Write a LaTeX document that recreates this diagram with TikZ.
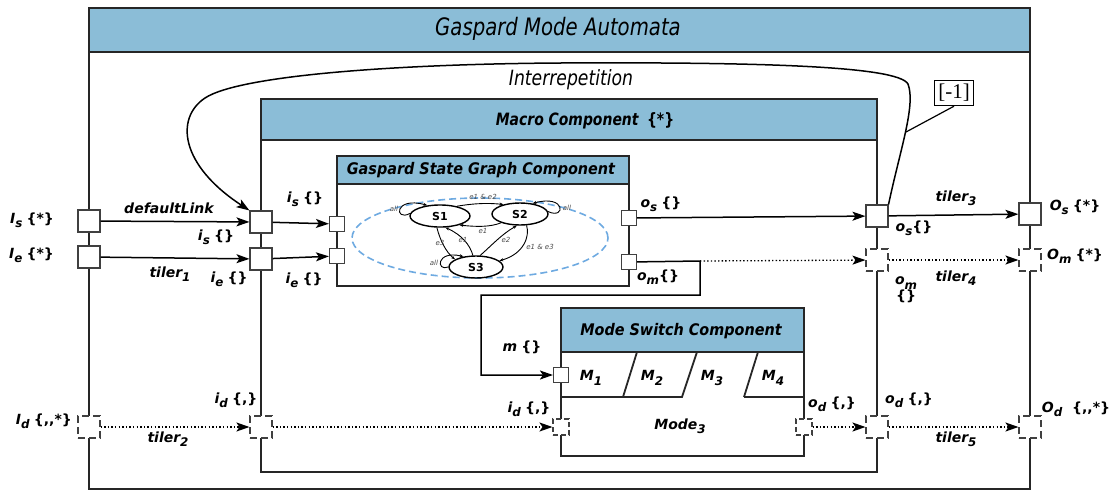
\documentclass[tikz,border=0pt]{standalone}
\usepackage{fontspec}
\setmainfont{DejaVu Sans}
\newfontfamily\condfont{DejaVu Sans}[FakeStretch=0.82]
\newfontfamily\headfont{DejaVu Sans}[FakeStretch=0.9]
\newfontfamily\notefont{Liberation Serif}
\usepackage{tikz}
\usetikzlibrary{arrows.meta,positioning,calc,shapes.geometric}
\usepackage{xcolor}

\definecolor{bandblue}{RGB}{139,189,215}
\definecolor{regionblue}{RGB}{110,170,225}

\newcommand{\fsz}[1]{\fontsize{#1}{#1}\selectfont}
\newcommand{\subl}[2]{#1\raisebox{-0.32em}{\scalebox{0.85}{#2}}}
\newcommand{\pname}[3]{\subl{#1}{#2}\hspace{0.3em}{\upshape #3}}

\tikzset{
  boxline/.style={draw=black!85,line width=2.2pt},
  band/.style={boxline,fill=bandblue},
  pbox/.style={draw=black!75,fill=white,line width=1.1pt,minimum size=22pt,inner sep=0pt},
  sbox/.style={pbox,minimum size=15pt},
  dbox/.style={pbox,dash pattern=on 7pt off 4pt},
  dsbox/.style={sbox,minimum size=16pt,dash pattern=on 5pt off 3pt},
  flow/.style={line width=1.5pt,-{Stealth[length=13pt,width=9pt,inset=3pt]}},
  dflow/.style={flow,line width=1.3pt,dash pattern=on 1.4pt off 2.2pt},
  lab/.style={font=\fsz{14}\bfseries\itshape,inner sep=1pt},
  bandtitle/.style={font=\headfont\fsz{16}\bfseries\itshape},
  stnode/.style={ellipse,draw,line width=1.4pt,minimum height=22pt,font=\fsz{11}\bfseries,inner sep=0pt},
  tedge/.style={line width=0.9pt,-{Stealth[length=4pt,width=3pt]}},
  tlab/.style={font=\fsz{7}\itshape,text=black!70,inner sep=1pt}
}

\begin{document}
\begin{tikzpicture}[x=1pt,y=-1pt]
\useasboundingbox (0,0) rectangle (1119,491);
% automaton frame
\draw[boxline] (89,8) rectangle (1030,489);
\draw[band] (89,8) rectangle (1030,52);
\node[font=\condfont\fsz{24}\itshape] (tAuto) at (558,29) {Gaspard Mode Automata};
% macro component
\draw[boxline] (261,99) rectangle (877,472);
\draw[band] (261,99) rectangle (877,140);
\node[font=\condfont\fsz{17}\bfseries\itshape] (tMacro) at (585,121) {Macro Component\enspace{\upshape\{*\}}};
% state graph component
\draw[boxline,line width=2.6pt] (337,156) rectangle (629,286);
\draw[band,line width=2.6pt] (337,156) rectangle (629,184);
\node[bandtitle] (tGraph) at (481,170) {Gaspard State Graph Component};
% mode switch component
\draw[boxline] (561,308) rectangle (804,456);
\draw[band] (561,308) rectangle (804,352);
\node[bandtitle] (tSwitch) at (681,331) {Mode Switch Component};
\draw[boxline,line width=1.8pt] (561,397) -- (623,397) -- (637,352) (623,397) -- (682,397) -- (697,352)
  (744,397) -- (758,352) (744,397) -- (804,397);
\foreach \k/\xx in {1/591,2/652,3/712,4/773}
  \node[lab] (lM\k) at (\xx,378) {\subl{M}{\k}};
\node[lab] (lMode) at (680,426) {\subl{Mode}{3}};

% states
\draw[regionblue,line width=1.6pt,dash pattern=on 7pt off 4pt] (480,238) ellipse [x radius=128pt,y radius=40pt];
\node[stnode,minimum width=60pt] (S1) at (440,216) {S1};
\node[stnode,minimum width=56pt] (S2) at (520,214) {S2};
\node[stnode,minimum width=54pt] (S3) at (476,267) {S3};
\draw[tedge] (S1.30) .. controls (476,203) and (489,203) .. (S2.150);
\draw[tedge] (S2.205) .. controls (490,227) and (478,227) .. (S1.335);
\draw[tedge] (S1.255) .. controls (440,240) and (446,252) .. (S3.160);
\draw[tedge] (S3.105) .. controls (470,245) and (462,235) .. (S1.295);
\draw[tedge] (S3.70) .. controls (492,245) and (502,234) .. (S2.255);
\draw[tedge] (S2.300) .. controls (530,236) and (524,254) .. (S3.15);
\draw[tedge] (S1.175) .. controls (394,222) and (394,196) .. (S1.140);
\draw[tedge] (S2.5) .. controls (566,220) and (566,194) .. (S2.40);
\draw[tedge] (S3.180) .. controls (436,272) and (436,250) .. (S3.140);
\node[tlab] (tE12) at (483,197) {e1 \& e2};
\node[tlab] (tE21) at (483,231) {e1};
\node[tlab] (tE13) at (440,243) {e3};
\node[tlab] (tE31) at (463,240) {e1};
\node[tlab] (tE32) at (506,240) {e2};
\node[tlab] (tE23) at (540,247) {e1 \& e3};
\node[tlab] (tL1) at (394,209) {all};
\node[tlab] (tL2) at (567,208) {all};
\node[tlab] (tL3) at (434,263) {all};

% ports
\node[pbox] (pIs) at (89,221) {};
\node[pbox] (pIe) at (89,257) {};
\node[dbox] (pId) at (89,427) {};
\node[pbox] (mIs) at (261,222) {};
\node[pbox] (mIe) at (261,259) {};
\node[dbox] (mId) at (261,427) {};
\node[sbox] (gIs) at (337,224) {};
\node[sbox] (gIe) at (337,256) {};
\node[sbox] (gOs) at (629,218) {};
\node[sbox] (gOm) at (629,262) {};
\node[pbox] (mOs) at (877,216) {};
\node[dbox] (mOm) at (877,260) {};
\node[dbox] (mOd) at (877,427) {};
\node[pbox] (pOs) at (1030,214) {};
\node[dbox] (pOm) at (1030,260) {};
\node[dbox] (pOd) at (1030,427) {};
\node[sbox] (sM) at (561,375) {};
\node[dsbox] (sId) at (561,427) {};
\node[dsbox] (sOd) at (804,427) {};

% links
\draw[flow] (pIs) -- (mIs);
\draw[flow] (pIe) -- (mIe);
\draw[flow] (mIs) -- (gIs);
\draw[flow] (mIe) -- (gIe);
\draw[flow] (gOs) -- (mOs);
\draw[flow] (mOs) -- (pOs);
\coordinate (omSplit) at (700,261);
\coordinate (omBend) at (481,295);
\draw[flow] (gOm) -- (omSplit) |- (omBend) |- (sM);
\draw[dflow] (omSplit) -- (mOm);
\draw[dflow] (mOm) -- (pOm);
\draw[dflow] (pId) -- (mId);
\draw[dflow] (mId) -- (sId);
\draw[dflow] (sOd) -- (mOd);
\draw[dflow] (mOd) -- (pOd);
% interrepetition
\draw[flow] (mOs.north east) .. controls (900,150) and (916,105) .. (908,84)
  .. controls (898,66) and (760,62) .. (560,63)
  .. controls (400,64) and (240,75) .. (205,98)
  .. controls (175,118) and (180,165) .. (mIs.north west);
\node[font=\condfont\fsz{21}\itshape] (lInter) at (571,80) {Interrepetition};
\coordinate (lagPt) at (906,132);
\node[draw,line width=1pt,fill=white,font=\notefont\fsz{21},inner sep=4pt] (lag) at (954,93) {[-1]};
\draw[line width=1.2pt] (lag.south) -- (lagPt);

% port labels
\node[lab,anchor=east] (lIs) at (55,220) {\pname{I}{s}{\{*\}}};
\node[lab,anchor=east] (lIe) at (55,255) {\pname{I}{e}{\{*\}}};
\node[lab,anchor=east] (lId) at (73,421) {\pname{I}{d}{\{,\kern0pt,*\}}};
\node[lab] (lDef) at (169,208) {defaultLink};
\node[lab] (lis1) at (216,237) {\pname{i}{s}{\{\}}};
\node[lab] (lT1) at (170,274) {\subl{tiler}{1}};
\node[lab] (lie1) at (229,279) {\pname{i}{e}{\{\}}};
\node[lab] (lis2) at (305,199) {\pname{i}{s}{\{\}}};
\node[lab] (lie2) at (304,280) {\pname{i}{e}{\{\}}};
\node[lab] (los1) at (661,204) {\pname{o}{s}{\{\}}};
\node[lab] (lom1) at (658,277) {\subl{o}{m}{\upshape\{\}}};
\node[lab] (lT3) at (956,198) {\subl{tiler}{3}};
\node[lab] (los2) at (914,228) {\subl{o}{s}{\upshape\{\}}};
\node[lab] (lOs) at (1075,207) {\pname{O}{s}{\{*\}}};
\node[lab] (lOm) at (1075,256) {\pname{O}{m}{\{*\}}};
\node[lab,align=center] (lom2) at (906,290) {\subl{o}{m}\\{\upshape\{\}}};
\node[lab] (lT4) at (956,278) {\subl{tiler}{4}};
\node[lab] (lm) at (522,348) {\pname{m}{}{\{\}}};
\node[lab] (lid1) at (236,400) {\pname{i}{d}{\{,\}}};
\node[lab] (lT2) at (168,439) {\subl{tiler}{2}};
\node[lab] (lid2) at (529,409) {\pname{i}{d}{\{,\}}};
\node[lab] (lod1) at (832,404) {\pname{o}{d}{\{,\}}};
\node[lab] (lod2) at (909,400) {\pname{o}{d}{\{,\}}};
\node[lab] (lOd) at (1076,409) {\subl{O}{d}\hspace{0.7em}{\upshape\{,\kern0pt,*\}}};
\node[lab] (lT5) at (956,439) {\subl{tiler}{5}};
\end{tikzpicture}
\end{document}
